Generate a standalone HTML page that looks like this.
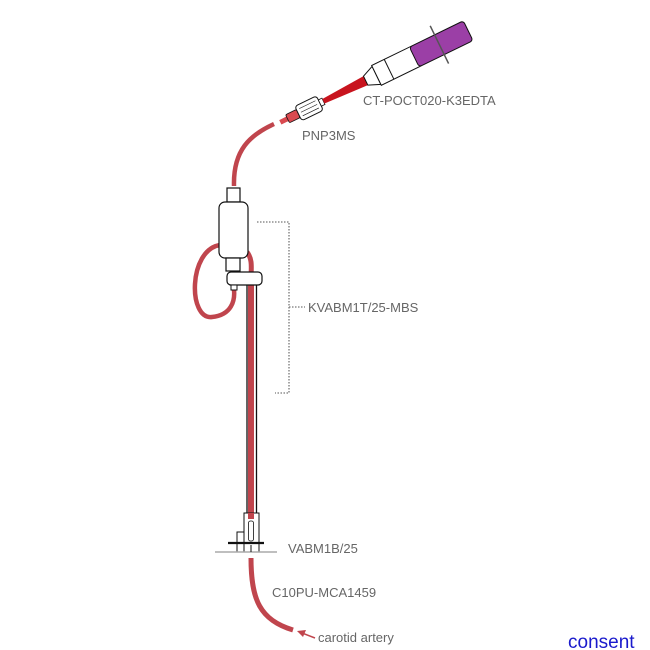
<!DOCTYPE html>
<html><head><meta charset="utf-8"><style>
html,body{margin:0;padding:0;background:#fff;}
svg{display:block;}
text{font-family:"Liberation Sans",sans-serif;fill:#666;font-size:13px;}
</style></head><body>
<svg width="650" height="650" viewBox="0 0 650 650" xmlns="http://www.w3.org/2000/svg">
<!-- upper tube -->
<path d="M274,124 C250,135 233,150 234,186" fill="none" stroke="#c0454d" stroke-width="4.5" stroke-linecap="butt"/>
<!-- loop -->
<path d="M220,245 C188,250 188,320 212,317 C232,315 235,300 234,290" fill="none" stroke="#c0454d" stroke-width="4.5"/>
<!-- tube into rod -->
<path d="M247,252 C253,260 251,268 251,280" fill="none" stroke="#c0454d" stroke-width="5"/>
<!-- rod -->
<rect x="248" y="280" width="6" height="240" fill="#c0454d"/>
<line x1="247" y1="285" x2="247" y2="513" stroke="#111" stroke-width="1.3"/>
<line x1="256.5" y1="285" x2="256.5" y2="513" stroke="#111" stroke-width="1.3"/>
<!-- connector top -->
<rect x="227" y="188" width="13" height="14" fill="#fff" stroke="#111" stroke-width="1.2"/>
<rect x="219" y="202" width="29" height="56" rx="6" fill="#fff" stroke="#111" stroke-width="1.2"/>
<rect x="226" y="258" width="14" height="13" fill="#fff" stroke="#111" stroke-width="1.2"/>
<rect x="227" y="272" width="35" height="13" rx="4" fill="#fff" stroke="#111" stroke-width="1.2"/>
<rect x="231" y="285" width="6" height="5" fill="#fff" stroke="#111" stroke-width="1"/>
<!-- bracket -->
<path d="M257,222 H289 V393 H275 M289,307 H305" fill="none" stroke="#777" stroke-width="1.3" stroke-dasharray="1.5,1.5"/>
<!-- base -->
<rect x="244" y="513" width="15" height="30" fill="#fff" stroke="#111" stroke-width="1"/>
<rect x="248" y="513" width="6" height="6" fill="#c0454d"/>
<rect x="248.5" y="521" width="5" height="20" rx="2" fill="#fff" stroke="#111" stroke-width="0.8"/>
<path d="M244,532 H237 V552 M244,543 V552 M259,543 V552" fill="none" stroke="#111" stroke-width="1"/>
<line x1="228" y1="543" x2="264" y2="543" stroke="#111" stroke-width="2.2"/>
<line x1="215" y1="552" x2="277" y2="552" stroke="#aaa" stroke-width="1.5"/>
<line x1="251" y1="545" x2="251" y2="552" stroke="#111" stroke-width="1"/>
<!-- lower tube -->
<path d="M251,558 C251,600 260,620 293,630" fill="none" stroke="#c0454d" stroke-width="5"/>
<!-- arrow -->
<line x1="315" y1="638" x2="302" y2="633" stroke="#c0454d" stroke-width="1.5"/>
<path d="M297,631 L306,630 L303,637 Z" fill="#c0454d"/>
<!-- syringe group -->
<g transform="translate(283,121) rotate(-26)">
  <rect x="-3" y="-2.5" width="8" height="5" fill="#d94a50"/>
  <rect x="5" y="-4.5" width="12" height="9" rx="1.5" fill="#d94a50" stroke="#111" stroke-width="0.8"/>
  <rect x="17" y="-8" width="24" height="16" rx="3" fill="#fff" stroke="#111" stroke-width="1"/>
  <line x1="20" y1="-4" x2="38" y2="-4" stroke="#111" stroke-width="0.6"/>
  <line x1="20" y1="0" x2="38" y2="0" stroke="#111" stroke-width="0.6"/>
  <line x1="20" y1="4" x2="38" y2="4" stroke="#111" stroke-width="0.6"/>
  <rect x="41" y="-3.5" width="4" height="7" fill="#fff" stroke="#111" stroke-width="0.8"/>
  <path d="M45,-2.5 L92,-5 L92,5 L45,2.5 Z" fill="#c8141e"/>
  <path d="M92,-5 L104,-10 L104,10 L92,5 Z" fill="#fff" stroke="#111" stroke-width="1"/>
  <rect x="104" y="-11" width="44" height="22" fill="#fff" stroke="#111" stroke-width="1"/>
  <line x1="118" y1="-11" x2="118" y2="11" stroke="#111" stroke-width="1"/>
  <rect x="146" y="-11" width="60" height="22" rx="3" fill="#9b3fa6" stroke="#111" stroke-width="1"/>
  <line x1="174" y1="-21" x2="174" y2="21" stroke="#555" stroke-width="1.5"/>
</g>
<text x="363" y="105">CT-POCT020-K3EDTA</text>
<text x="302" y="140">PNP3MS</text>
<text x="308" y="312">KVABM1T/25-MBS</text>
<text x="288" y="553">VABM1B/25</text>
<text x="272" y="597">C10PU-MCA1459</text>
<text x="318" y="642">carotid artery</text>
<text x="568" y="648" style="fill:#1a1acc;font-size:19px;">consent</text>
</svg>
</body></html>
